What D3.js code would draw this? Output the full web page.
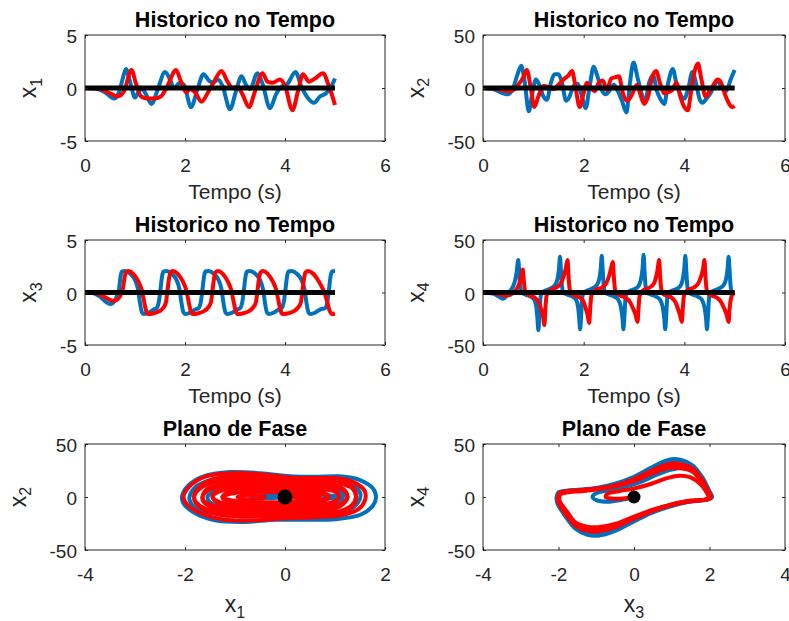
<!DOCTYPE html>
<html>
<head>
<meta charset="utf-8">
<script src="https://cdn.jsdelivr.net/npm/d3@7/dist/d3.min.js"></script>
<style>
  body { margin: 0; background: #fff; }
  svg { display: block; }
  text { font-family: "Liberation Sans", Arial, Helvetica, sans-serif; fill: #262626; }
</style>
</head>
<body>
<div id="chart"></div>
<script>
// ---- time histories, [t, value] ----
var x1Blue = [[0,0],[0.2,-0.05],[0.4,-0.4],[0.58,-1.0],[0.68,-0.4],[0.75,0.8],[0.82,1.8],[0.9,0.6],[1.0,-0.9],[1.08,-0.3],[1.15,-0.1],[1.22,-0.6],[1.33,-1.5],[1.45,-0.2],[1.6,1.5],[1.7,0.8],[1.78,0.0],[1.9,0.5],[1.98,0.3],[2.12,-1.8],[2.25,-0.1],[2.37,1.3],[2.48,0.7],[2.56,0.5],[2.66,0.8],[2.75,0.2],[2.9,-2.0],[3.02,-0.3],[3.13,1.1],[3.22,0.3],[3.3,-0.1],[3.45,1.4],[3.55,0.4],[3.7,-1.9],[3.82,-0.6],[3.92,0.1],[4.05,0.4],[4.21,1.5],[4.33,0.1],[4.45,-0.9],[4.58,-1.4],[4.7,-0.8],[4.82,-0.5],[4.92,0.1],[5.0,0.9]];
var x1Red = [[0,0],[0.3,-0.1],[0.5,-0.5],[0.65,-0.8],[0.78,-0.3],[0.93,1.7],[1.02,0.4],[1.12,-0.8],[1.25,-1.0],[1.4,-1.0],[1.52,-0.8],[1.65,0.2],[1.82,1.7],[1.92,0.6],[2.02,-0.4],[2.1,-0.1],[2.2,-0.4],[2.33,-1.3],[2.45,-0.5],[2.58,0.6],[2.73,1.6],[2.85,0.6],[2.95,0.0],[3.05,0.1],[3.15,-0.6],[3.28,-1.8],[3.4,-0.3],[3.55,1.4],[3.65,0.6],[3.75,0.5],[3.9,0.8],[4.0,0.2],[4.15,-2.1],[4.26,-0.3],[4.36,1.3],[4.48,0.6],[4.6,0.9],[4.76,1.4],[4.87,0.3],[5.0,-1.6]];

var x2Blue = [[0,0],[0.2,-1],[0.4,-5],[0.5,-6],[0.6,0],[0.68,12],[0.76,21],[0.83,5],[0.91,-22],[0.98,-5],[1.05,8],[1.12,3],[1.2,-8],[1.27,-11],[1.35,5],[1.42,13],[1.5,13],[1.57,5],[1.65,-12],[1.72,-8],[1.8,2],[1.88,4],[1.95,-5],[2.04,-19],[2.12,2],[2.2,20],[2.28,10],[2.36,-2],[2.44,-6],[2.52,-2],[2.6,3],[2.68,-3],[2.76,-12],[2.85,-23],[2.92,5],[2.99,24],[3.07,10],[3.15,-5],[3.22,-13],[3.3,5],[3.38,12],[3.45,-2],[3.52,-10],[3.6,-15],[3.68,5],[3.77,18],[3.84,5],[3.92,-6],[4.0,-10],[4.08,0],[4.16,15],[4.23,5],[4.3,-10],[4.36,-14],[4.44,-10],[4.52,-5],[4.6,3],[4.66,7],[4.75,0],[4.83,-3],[4.92,8],[5.0,17]];
var x2Red = [[0,0],[0.3,-1],[0.5,-3],[0.6,-2],[0.7,3],[0.8,10],[0.87,17],[0.95,0],[1.02,-18],[1.1,-8],[1.2,2],[1.3,1],[1.4,-1],[1.5,3],[1.6,8],[1.7,12],[1.77,16],[1.84,0],[1.92,-18],[2.0,-5],[2.06,5],[2.14,0],[2.22,-3],[2.3,5],[2.38,7],[2.46,-2],[2.55,9],[2.62,10],[2.7,11],[2.78,-5],[2.86,-12],[2.94,-8],[3.0,-2],[3.06,3],[3.12,-5],[3.2,-15],[3.28,-8],[3.36,10],[3.44,16],[3.52,4],[3.6,-5],[3.68,-4],[3.76,-2],[3.84,5],[3.92,-8],[4.0,-18],[4.07,-21],[4.13,-5],[4.2,15],[4.27,23],[4.34,8],[4.42,-8],[4.5,-3],[4.58,3],[4.66,8],[4.73,5],[4.8,-5],[4.88,-14],[4.95,-18],[5.0,-17]];

var x3Blue = [[0,0],[0.15,-0.05],[0.3,-0.4],[0.45,-1.0],[0.52,-1.1],[0.58,-0.9],[0.64,-0.3],[0.68,0.3],[0.71,1.5],[0.74,2.0],[0.8,2.05],[0.9,1.8],[1.0,1.2],[1.06,0.3],[1.1,-1.0],[1.14,-1.9],[1.18,-2.05],[1.28,-1.9],[1.38,-1.6],[1.43,-1.5],[1.48,-0.8],[1.51,0.3],[1.54,1.5],[1.57,2.0],[1.63,2.05],[1.73,1.8],[1.83,1.2],[1.89,0.3],[1.93,-1.0],[1.97,-1.9],[2.01,-2.05],[2.11,-1.9],[2.21,-1.6],[2.27,-1.5],[2.32,-0.8],[2.35,0.3],[2.38,1.5],[2.41,2.0],[2.47,2.05],[2.57,1.8],[2.67,1.2],[2.73,0.3],[2.77,-1.0],[2.81,-1.9],[2.85,-2.05],[2.95,-1.9],[3.05,-1.6],[3.1,-1.5],[3.15,-0.8],[3.18,0.3],[3.21,1.5],[3.24,2.0],[3.3,2.05],[3.4,1.8],[3.5,1.2],[3.56,0.3],[3.6,-1.0],[3.64,-1.9],[3.68,-2.05],[3.78,-1.9],[3.88,-1.6],[3.93,-1.5],[3.98,-0.8],[4.01,0.3],[4.04,1.5],[4.07,2.0],[4.13,2.05],[4.23,1.8],[4.33,1.2],[4.39,0.3],[4.43,-1.0],[4.47,-1.9],[4.51,-2.05],[4.61,-1.9],[4.71,-1.6],[4.8,-1.5],[4.85,-0.8],[4.88,0.3],[4.91,1.5],[4.94,2.0],[5.0,2.05]];
var x3Red = [[0,0],[0.2,-0.05],[0.35,-0.3],[0.5,-0.7],[0.58,-0.8],[0.66,-0.6],[0.72,-0.2],[0.76,0.4],[0.79,1.4],[0.82,1.9],[0.87,2.05],[0.96,1.8],[1.06,1.1],[1.13,0.3],[1.18,-0.8],[1.22,-1.7],[1.26,-2.05],[1.36,-2.0],[1.48,-1.8],[1.56,-1.5],[1.62,-0.9],[1.65,0.2],[1.68,1.3],[1.71,1.9],[1.76,2.05],[1.85,1.8],[1.95,1.1],[2.02,0.3],[2.07,-0.8],[2.11,-1.7],[2.15,-2.05],[2.25,-2.0],[2.37,-1.8],[2.45,-1.5],[2.52,-0.9],[2.55,0.2],[2.58,1.3],[2.61,1.9],[2.66,2.05],[2.75,1.8],[2.85,1.1],[2.92,0.3],[2.97,-0.8],[3.01,-1.7],[3.05,-2.05],[3.15,-2.0],[3.27,-1.8],[3.35,-1.5],[3.42,-0.9],[3.45,0.2],[3.48,1.3],[3.51,1.9],[3.56,2.05],[3.65,1.8],[3.75,1.1],[3.82,0.3],[3.87,-0.8],[3.91,-1.7],[3.95,-2.05],[4.05,-2.0],[4.17,-1.8],[4.25,-1.5],[4.32,-0.9],[4.35,0.2],[4.38,1.3],[4.41,1.9],[4.46,2.05],[4.56,1.8],[4.67,1.1],[4.76,0.3],[4.84,-0.8],[4.89,-1.7],[4.94,-2.05],[5.0,-2.0]];

var x4Blue = [[0,0],[0.2,-1],[0.32,-4],[0.4,-6],[0.47,-3],[0.55,2],[0.6,6],[0.64,12],[0.67,20],[0.7,31],[0.72,20],[0.74,6],[0.77,0],[0.85,-2],[0.95,-4],[1.02,-7],[1.06,-14],[1.08,-24],[1.1,-36],[1.12,-22],[1.14,-6],[1.17,0],[1.25,2],[1.35,4],[1.43,7],[1.48,13],[1.51,23],[1.53,34],[1.55,20],[1.57,6],[1.6,0],[1.68,-2],[1.78,-4],[1.85,-7],[1.89,-14],[1.91,-24],[1.93,-35],[1.95,-22],[1.97,-6],[2.0,0],[2.08,2],[2.18,4],[2.26,7],[2.31,13],[2.34,23],[2.36,35],[2.38,20],[2.4,6],[2.43,0],[2.51,-2],[2.61,-4],[2.69,-7],[2.74,-14],[2.77,-24],[2.79,-35],[2.81,-22],[2.83,-6],[2.86,0],[2.94,2],[3.04,4],[3.1,7],[3.14,13],[3.17,23],[3.19,36],[3.21,20],[3.23,6],[3.26,0],[3.34,-2],[3.44,-4],[3.52,-7],[3.57,-14],[3.6,-24],[3.62,-35],[3.64,-22],[3.66,-6],[3.69,0],[3.77,2],[3.87,4],[3.93,7],[3.97,13],[4.0,23],[4.02,35],[4.04,20],[4.06,6],[4.09,0],[4.17,-2],[4.27,-4],[4.35,-7],[4.4,-14],[4.43,-24],[4.45,-35],[4.47,-22],[4.49,-6],[4.52,0],[4.6,2],[4.7,4],[4.78,7],[4.83,13],[4.86,23],[4.88,34],[4.9,20],[4.92,6],[4.95,0],[5.0,-1]];
var x4Red = [[0,0],[0.2,-0.5],[0.35,-2],[0.45,-3],[0.55,-2],[0.63,1],[0.69,5],[0.73,10],[0.76,16],[0.79,22],[0.81,12],[0.83,3],[0.86,-1],[0.94,-3],[1.03,-5],[1.1,-9],[1.15,-15],[1.19,-22],[1.22,-31],[1.24,-15],[1.26,-4],[1.29,0],[1.37,3],[1.47,5],[1.55,9],[1.6,15],[1.64,22],[1.68,31],[1.7,15],[1.72,4],[1.75,-1],[1.83,-3],[1.93,-5],[2.0,-9],[2.04,-15],[2.08,-22],[2.11,-29],[2.13,-15],[2.15,-4],[2.18,0],[2.27,3],[2.37,5],[2.45,9],[2.5,15],[2.54,22],[2.58,29],[2.6,15],[2.62,4],[2.65,-1],[2.73,-3],[2.83,-5],[2.92,-9],[2.98,-15],[3.03,-21],[3.07,-28],[3.09,-15],[3.11,-4],[3.14,0],[3.22,3],[3.32,5],[3.4,9],[3.44,15],[3.47,22],[3.5,31],[3.52,15],[3.54,4],[3.57,-1],[3.65,-3],[3.75,-5],[3.82,-9],[3.87,-15],[3.91,-21],[3.95,-28],[3.97,-15],[3.99,-4],[4.02,0],[4.1,3],[4.2,5],[4.28,9],[4.33,15],[4.37,22],[4.4,31],[4.42,15],[4.44,4],[4.47,-1],[4.55,-3],[4.65,-5],[4.73,-9],[4.79,-15],[4.84,-21],[4.88,-28],[4.9,-15],[4.93,-5],[4.97,-1],[5.0,0]];

// reference trajectory (black), always zero
var refTime = [0, 5];
var refValue = [0, 0];

// ---- phase plane x1 / x2, loops ----
var p12BlueLoops = [
  [[-2.06,0],[-1.95,10],[-1.63,19.5],[-1.1,23.5],[-0.5,22.5],[0.1,19.5],[0.6,19],[1.1,19.5],[1.5,16],[1.76,8],[1.82,0],[1.76,-8],[1.52,-16.5],[1.0,-21],[0.4,-21.5],[-0.2,-21.5],[-0.8,-23.5],[-1.4,-22],[-1.83,-14.5],[-2.03,-6]],
  [[-1.91,0],[-1.8,9],[-1.48,16],[-0.95,19],[-0.35,18],[0.2,16],[0.7,16.5],[1.12,15],[1.4,10],[1.51,2],[1.45,-6],[1.25,-13],[0.8,-17],[0.2,-17.5],[-0.4,-18],[-1.0,-18],[-1.5,-15],[-1.8,-10],[-1.9,-4]],
  [[-1.55,0],[-1.45,5],[-1.15,9.5],[-0.7,11],[-0.2,10],[0.3,9],[0.7,9.5],[1.0,7],[1.16,2],[1.1,-4],[0.85,-8.5],[0.35,-10],[-0.2,-10],[-0.8,-10.5],[-1.25,-9],[-1.5,-5]],
  [[0.4,0],[0.55,1.8],[0.9,1.5],[1.05,0],[0.9,-1.5],[0.55,-1.8]]
];
var p12RedLoops = [
  [[-2.03,0],[-1.91,10],[-1.58,19.5],[-1.0,22.5],[-0.4,21],[0.2,18],[0.7,18],[1.15,17],[1.45,12],[1.6,5],[1.6,-3],[1.48,-11],[1.15,-17],[0.6,-19],[0,-20],[-0.6,-22],[-1.2,-21.5],[-1.68,-15.5],[-1.96,-7]],
  [[-1.82,0],[-1.72,9],[-1.45,16.5],[-0.95,19.5],[-0.35,18.5],[0.2,16.5],[0.7,16.5],[1.1,15],[1.35,9.5],[1.42,0],[1.33,-9.5],[1.05,-15.5],[0.5,-17.5],[-0.1,-17.5],[-0.7,-18.5],[-1.25,-17],[-1.6,-12.5],[-1.78,-6]],
  [[-1.82,0],[-1.7,8],[-1.4,14.5],[-0.9,17],[-0.3,16],[0.2,14.5],[0.7,15],[1.1,13],[1.35,8],[1.42,0],[1.33,-8],[1.05,-14],[0.5,-15.5],[-0.1,-15.5],[-0.7,-16.5],[-1.25,-15],[-1.6,-11],[-1.78,-5]],
  [[-1.65,0],[-1.57,7],[-1.3,12.5],[-0.85,15],[-0.3,14],[0.2,12.5],[0.65,13],[1.02,11.5],[1.2,6],[1.25,0],[1.18,-6],[0.95,-12],[0.5,-14],[-0.1,-14],[-0.65,-14.5],[-1.15,-13.5],[-1.48,-9.5],[-1.63,-4.5]],
  [[-1.65,0],[-1.55,6],[-1.25,11],[-0.8,13],[-0.3,12],[0.2,11],[0.65,11.5],[1.0,9.5],[1.2,5],[1.25,0],[1.18,-5],[0.95,-10],[0.5,-12],[-0.1,-12],[-0.65,-12.5],[-1.15,-11.5],[-1.45,-8],[-1.62,-4]],
  [[-1.45,0],[-1.37,5.5],[-1.1,9.5],[-0.65,11],[-0.1,10],[0.35,9.5],[0.75,9.5],[1.0,6.5],[1.08,0],[1.0,-5.5],[0.72,-9],[0.2,-10],[-0.4,-10.5],[-0.95,-10],[-1.3,-6.5]],
  [[-1.45,0],[-1.35,4.5],[-1.05,8],[-0.6,9],[-0.1,8],[0.35,7.5],[0.75,7.5],[1.0,5],[1.08,0],[1.0,-4],[0.7,-7],[0.2,-8],[-0.4,-8.5],[-0.95,-8],[-1.3,-5]],
  [[-1.25,0],[-1.15,4],[-0.8,6.5],[-0.2,6.5],[0.3,6],[0.7,5.5],[0.88,0],[0.7,-5],[0.2,-6.5],[-0.4,-7],[-0.95,-6],[-1.2,-3]],
  [[-1.25,0],[-1.1,3],[-0.7,5],[-0.2,4.5],[0.3,4],[0.7,3.5],[0.88,0],[0.7,-3],[0.2,-4.5],[-0.4,-5],[-0.95,-4],[-1.18,-2]],
  [[-0.95,0],[-0.85,1.5],[-0.55,1.8],[-0.4,0],[-0.55,-1.8],[-0.85,-1.5]]
];
var p12BlueStart = [[0,0],[-0.3,-1],[-0.6,-0.5],[-0.7,0.5],[-0.4,1.5],[0,1]];
var p12RedStart = [[0,0],[0.3,-1],[0.6,-0.5],[0.7,0.5],[0.4,1.2],[0,0.8]];

// ---- phase plane x3 / x4 ----
var p34BlueLoops = [
  [[-2.05,0],[-2.0,4.5],[-1.8,6],[-1.4,7],[-1.0,8.5],[-0.5,12.5],[0,19],[0.5,28.5],[0.95,35.5],[1.25,35],[1.55,30],[1.82,18],[1.99,6],[2.07,0],[2.0,-2],[1.8,-3],[1.4,-5],[1.0,-8.5],[0.5,-14.5],[0,-23],[-0.5,-32],[-0.95,-36.5],[-1.25,-35.5],[-1.55,-30],[-1.82,-18],[-2.03,-6]],
  [[-2.02,0],[-1.97,4],[-1.77,5.5],[-1.4,6.5],[-1.0,8],[-0.5,11.5],[0,17.5],[0.5,26.5],[0.95,33],[1.25,32.5],[1.55,28],[1.8,17],[1.97,5.5],[2.04,0],[1.97,-2],[1.77,-3],[1.4,-4.5],[1.0,-8],[0.5,-13.5],[0,-21.5],[-0.5,-30],[-0.95,-34],[-1.25,-33.5],[-1.55,-28],[-1.8,-17],[-2.0,-5.5]]
];
var p34RedLoops = [
  [[-2.02,0],[-1.97,4],[-1.77,5.5],[-1.4,6.5],[-1.0,8],[-0.5,11],[0,17],[0.5,25.5],[0.95,31.5],[1.25,31],[1.55,27],[1.8,16.5],[1.97,5.5],[2.04,0],[1.97,-2],[1.77,-3],[1.4,-4.5],[1.0,-7.5],[0.5,-13],[0,-20.5],[-0.5,-28.5],[-0.95,-32.5],[-1.25,-32],[-1.55,-27],[-1.8,-16.5],[-2.0,-5.5]],
  [[-2.0,0],[-1.95,3.5],[-1.75,5],[-1.4,6],[-1.0,7.5],[-0.5,10.5],[0,16],[0.5,24],[0.95,29.5],[1.25,29],[1.55,25.5],[1.78,15.5],[1.95,5],[2.02,0],[1.95,-2],[1.75,-3],[1.4,-4],[1.0,-7],[0.5,-12.5],[0,-19.5],[-0.5,-27],[-0.95,-30.5],[-1.25,-30],[-1.55,-25.5],[-1.78,-15.5],[-1.98,-5]],
  [[-1.98,0],[-1.93,3],[-1.73,4.5],[-1.4,5.5],[-1.0,7],[-0.5,10],[0,15],[0.5,22.5],[0.95,27.5],[1.25,27],[1.55,24],[1.77,14.5],[1.93,4.5],[2.0,0],[1.93,-2],[1.73,-3],[1.4,-4],[1.0,-7],[0.5,-12],[0,-18.5],[-0.5,-25.5],[-0.95,-28.5],[-1.25,-28],[-1.55,-24],[-1.76,-14.5],[-1.96,-4.5]]
];
var p34BlueStart = [[0,0],[-0.3,-2.5],[-0.7,-4.5],[-1.0,-3],[-1.1,0],[-1.0,3.5],[-0.7,6],[-0.3,9],[0.2,14.5],[0.6,21],[1.0,26],[1.4,27],[1.7,21],[1.92,10],[2.02,2],[2.0,0]];
var p34RedStart = [[0,0],[-0.3,-1.5],[-0.6,-1.5],[-0.75,0],[-0.7,3],[-0.4,5.5],[0,8],[0.5,13],[0.9,18],[1.2,20],[1.5,18.5],[1.78,11.5],[1.93,4],[1.98,0]];

var refPhase = [[0, 0]];

// ---- axes ticks ----
var timeTicks = [0, 2, 4, 6];
var smallTicks = [-5, 0, 5];
var bigTicks = [-50, 0, 50];
var phase12XTicks = [-4, -2, 0, 2];
var phase34XTicks = [-4, -2, 0, 2, 4];

var blue = '#0072bd',
  red = '#ff0000',
  axisColor = '#262626';

var svg = d3.select('#chart').append('svg')
  .attr('width', 789)
  .attr('height', 621);

var colLeft = [85, 483],
  colWidth = [300, 302],
  rowTop = [35, 240, 444],
  rowHeight = [106, 105, 106];

var panels = [
  {col: 0, row: 0, kind: 'time', xDomain: [0, 6], yDomain: [-5, 5], xTicks: timeTicks, yTicks: smallTicks,
    title: 'Historico no Tempo', sub: '1', blueData: x1Blue, redData: x1Red},
  {col: 1, row: 0, kind: 'time', xDomain: [0, 6], yDomain: [-50, 50], xTicks: timeTicks, yTicks: bigTicks,
    title: 'Historico no Tempo', sub: '2', blueData: x2Blue, redData: x2Red},
  {col: 0, row: 1, kind: 'time', xDomain: [0, 6], yDomain: [-5, 5], xTicks: timeTicks, yTicks: smallTicks,
    title: 'Historico no Tempo', sub: '3', blueData: x3Blue, redData: x3Red},
  {col: 1, row: 1, kind: 'time', xDomain: [0, 6], yDomain: [-50, 50], xTicks: timeTicks, yTicks: bigTicks,
    title: 'Historico no Tempo', sub: '4', blueData: x4Blue, redData: x4Red},
  {col: 0, row: 2, kind: 'phase', xDomain: [-4, 2], yDomain: [-50, 50], xTicks: phase12XTicks, yTicks: bigTicks,
    title: 'Plano de Fase', xsub: '1', sub: '2', blueStart: p12BlueStart, redStart: p12RedStart,
    blueLoops: p12BlueLoops, redLoops: p12RedLoops, dot: 7.5},
  {col: 1, row: 2, kind: 'phase', xDomain: [-4, 4], yDomain: [-50, 50], xTicks: phase34XTicks, yTicks: bigTicks,
    title: 'Plano de Fase', xsub: '3', sub: '4', blueStart: p34BlueStart, redStart: p34RedStart,
    blueLoops: p34BlueLoops, redLoops: p34RedLoops, dot: 6.5}
];

panels.forEach(function (p) {
  var left = colLeft[p.col],
    top = rowTop[p.row],
    width = colWidth[p.col],
    height = rowHeight[p.row];

  var x = d3.scaleLinear().domain(p.xDomain).range([0, width]);
  var y = d3.scaleLinear().domain(p.yDomain).range([height, 0]);

  var g = svg.append('g')
    .attr('transform', 'translate(' + left + ',' + top + ')');

  var plot = g.append('g');

  if (p.kind === 'time') {
    var line = d3.line()
      .x(function (d) { return x(d[0]); })
      .y(function (d) { return y(d[1]); })
      .curve(d3.curveMonotoneX);

    plot.append('path').datum(p.blueData)
      .attr('d', line).attr('fill', 'none')
      .attr('stroke', blue).attr('stroke-width', 4).attr('stroke-linejoin', 'round');
    plot.append('path').datum(p.redData)
      .attr('d', line).attr('fill', 'none')
      .attr('stroke', red).attr('stroke-width', 4).attr('stroke-linejoin', 'round');

    //reference signal
    plot.append('path').datum(d3.zip(refTime, refValue))
      .attr('d', d3.line().x(function (d) { return x(d[0]); }).y(function (d) { return y(d[1]); }))
      .attr('stroke', '#000').attr('stroke-width', 5);
  } else {
    var open = d3.line()
      .x(function (d) { return x(d[0]); })
      .y(function (d) { return y(d[1]); })
      .curve(d3.curveCatmullRom.alpha(0.5));
    var closed = d3.line()
      .x(function (d) { return x(d[0]); })
      .y(function (d) { return y(d[1]); })
      .curve(d3.curveCatmullRomClosed.alpha(0.5));

    [[p.blueStart, p.blueLoops, blue], [p.redStart, p.redLoops, red]].forEach(function (s) {
      plot.append('path').datum(s[0])
        .attr('d', open).attr('fill', 'none')
        .attr('stroke', s[2]).attr('stroke-width', 4);
      plot.selectAll(null).data(s[1]).enter().append('path')
        .attr('d', closed).attr('fill', 'none')
        .attr('stroke', s[2]).attr('stroke-width', 4);
    });

    plot.selectAll(null).data(refPhase).enter().append('circle')
      .attr('cx', function (d) { return x(d[0]); })
      .attr('cy', function (d) { return y(d[1]); })
      .attr('r', p.dot)
      .attr('fill', '#000');
  }

  // axes, ticks pointing inwards and mirrored on the box
  var fmt = function (d) { return String(d); };
  g.append('g').attr('class', 'axis')
    .attr('transform', 'translate(0,' + height + ')')
    .call(d3.axisBottom(x).tickValues(p.xTicks).tickFormat(fmt).tickSizeInner(-3).tickSizeOuter(0).tickPadding(18));
  var ay = g.append('g').attr('class', 'axis')
    .call(d3.axisLeft(y).tickValues(p.yTicks).tickFormat(fmt).tickSizeInner(-3).tickSizeOuter(0).tickPadding(8));
  g.append('g').attr('class', 'axis')
    .call(d3.axisTop(x).tickValues(p.xTicks).tickFormat('').tickSizeInner(-3).tickSizeOuter(0));
  g.append('g').attr('class', 'axis')
    .attr('transform', 'translate(' + width + ',0)')
    .call(d3.axisRight(y).tickValues(p.yTicks).tickFormat('').tickSizeInner(-3).tickSizeOuter(0));

  g.selectAll('.axis .domain').remove();
  g.selectAll('.axis line').attr('stroke', axisColor);
  g.selectAll('.axis text')
    .attr('fill', axisColor)
    .style('font-size', '19px')
    .style('font-family', '"Liberation Sans", Arial, sans-serif');
  ay.selectAll('text').attr('dy', '0.42em');

  g.append('rect')
    .attr('x', 0).attr('y', 0)
    .attr('width', width).attr('height', height)
    .attr('fill', 'none')
    .attr('stroke', axisColor)
    .attr('stroke-width', 1);

  // title
  g.append('text')
    .attr('x', width / 2)
    .attr('y', -8.5)
    .attr('text-anchor', 'middle')
    .style('font-weight', 'bold')
    .style('font-size', '21.5px')
    .style('fill', '#000')
    .text(p.title);

  // x label
  if (p.kind === 'time') {
    g.append('text')
      .attr('x', width / 2)
      .attr('y', height + 58)
      .attr('text-anchor', 'middle')
      .style('font-size', '21px')
      .text('Tempo (s)');
  } else {
    var xl = g.append('text')
      .attr('x', width / 2)
      .attr('y', height + 62)
      .attr('text-anchor', 'middle')
      .style('font-size', '23px');
    xl.append('tspan').text('x');
    xl.append('tspan').attr('dy', '0.35em').style('font-size', '16px').text(p.xsub);
  }

  // y label, left of the widest tick label
  var minX = d3.min(ay.selectAll('text').nodes(), function (n) { return n.getBBox().x; });
  var yl = g.append('text')
    .attr('transform', 'translate(' + (minX - 24) + ',' + (height / 2) + ') rotate(-90)')
    .attr('text-anchor', 'middle')
    .style('font-size', '23px');
  yl.append('tspan').text('x');
  yl.append('tspan').attr('dy', '0.35em').style('font-size', '16px').text(p.sub);
});
</script>
</body>
</html>
